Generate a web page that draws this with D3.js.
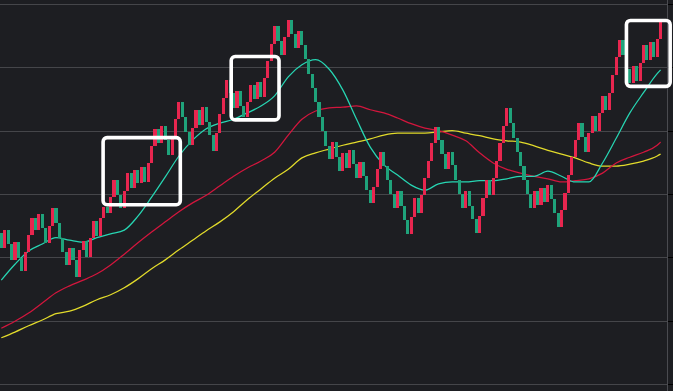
<!DOCTYPE html>
<html><head><meta charset="utf-8">
<script src="https://cdn.jsdelivr.net/npm/d3@7"></script>
<style>html,body{margin:0;padding:0;background:#1d1e22;overflow:hidden}svg{display:block}</style>
</head><body><svg id="c" width="673" height="391"></svg>
<script>
// ---- data (price units) ----
const opens = [3238,3215,3243,3221,3196,3224,3199,3178,3208,3235,
3262,3243,3268,3246,3223,3249,3278,3254,3231,3208,
3188,3215,3196,3169,3212,3226,3201,3231,3257,3234,
3262,3279,3270,3295,3322,3298,3278,3305,3333,3309,
3338,3317,3343,3319,3349,3376,3403,3381,3407,3385,
3362,3388,3418,3445,3422,3398,3377,3404,3433,3409,
3437,3414,3393,3368,3396,3426,3452,3480,3460,3436,
3463,3439,3422,3445,3472,3450,3477,3453,3483,3510,
3537,3565,3542,3520,3548,3575,3553,3530,3557,3535,
3513,3490,3467,3445,3422,3400,3376,3355,3382,3358,
3336,3365,3341,3369,3347,3325,3351,3328,3306,3286,
3311,3339,3366,3344,3322,3300,3278,3305,3281,3259,
3237,3264,3294,3270,3298,3325,3352,3381,3406,3385,
3363,3339,3366,3346,3322,3300,3278,3305,3281,3261,
3238,3265,3294,3322,3298,3325,3352,3381,3407,3436,
3412,3388,3366,3344,3322,3300,3278,3305,3283,3309,
3287,3314,3292,3270,3248,3275,3302,3330,3358,3385,
3412,3390,3366,3396,3423,3400,3428,3455,3433,3460,
3488,3516,3543,3520,3497,3475,3502,3478,3507,3535,
3512,3540,3516,3545];
const closes = [3215,3243,3221,3196,3224,3199,3178,3208,3235,3262,
3243,3268,3246,3223,3249,3278,3254,3231,3208,3188,
3215,3196,3169,3212,3226,3201,3231,3257,3234,3262,
3279,3270,3295,3322,3298,3278,3305,3333,3309,3338,
3317,3343,3319,3349,3376,3403,3381,3407,3385,3362,
3388,3418,3445,3422,3398,3377,3404,3433,3409,3437,
3414,3393,3368,3396,3426,3452,3480,3460,3436,3463,
3439,3422,3445,3472,3450,3477,3453,3483,3510,3537,
3565,3542,3520,3548,3575,3553,3530,3557,3535,3513,
3490,3467,3445,3422,3400,3376,3355,3382,3358,3336,
3365,3341,3369,3347,3325,3351,3328,3306,3286,3311,
3339,3366,3344,3322,3300,3278,3305,3281,3259,3237,
3264,3294,3270,3298,3325,3352,3381,3406,3385,3363,
3339,3366,3346,3322,3300,3278,3305,3281,3261,3238,
3265,3294,3322,3298,3325,3352,3381,3407,3436,3412,
3388,3366,3344,3322,3300,3278,3305,3283,3309,3287,
3314,3292,3270,3248,3275,3302,3330,3358,3385,3412,
3390,3366,3396,3423,3400,3428,3455,3433,3460,3488,
3516,3543,3520,3497,3475,3502,3478,3507,3535,3512,
3540,3516,3545,3572];

// moving-average readings at these candle positions
const maIndex = [0,4,8,12,16,20,24,28,32,36,40,44,48,52,56,60,64,68,72,76,80,84,88,92,96,
100,104,108,112,116,120,124,128,132,136,140,144,148,152,156,160,164,168,172,176,180,184,188,192,193];
const maShort = [3164,3189,3210,3221,3231,3227,3224,3231,3237,3243,3265,3295,3327,3360,3385,3403,3412,3418,3428,3439,
3455,3485,3504,3512,3497,3464,3418,3374,3346,3330,3314,3306,3316,3319,3319,3321,3321,3324,3328,3328,
3336,3328,3319,3319,3349,3388,3428,3460,3490,3496];
const maMid = [3088,3099,3112,3128,3144,3155,3164,3174,3188,3205,3223,3240,3256,3272,3286,3298,3313,3328,3341,3352,
3366,3393,3418,3431,3436,3437,3439,3433,3428,3420,3411,3404,3400,3393,3384,3365,3349,3339,3333,3328,
3324,3319,3321,3324,3333,3349,3358,3366,3377,3382];
const maLong = [3073,3082,3092,3101,3111,3115,3123,3133,3141,3152,3166,3182,3196,3212,3227,3242,3256,3272,3291,3308,
3325,3339,3357,3365,3371,3377,3382,3387,3393,3396,3396,3396,3398,3400,3396,3392,3387,3384,3382,3376,
3369,3363,3357,3349,3344,3344,3347,3352,3360,3363];

const gridTicks = [3000,3100,3200,3300,3400,3500,3600];

// highlighted ranges: candle index span and price span
const boxFrom = [29.8, 67.3, 183.0];
const boxTo   = [52.4, 81.3, 195.8];
const boxHi   = [3389, 3517, 3574];
const boxLo   = [3283, 3417, 3470];

// ---- drawing ----
const W = 673, H = 391, axisX = 667.5;
const svg = d3.select("#c");
svg.append("rect").attr("width", W).attr("height", H).attr("fill", "#1d1e22");

const x = d3.scaleLinear().domain([0, closes.length - 1]).range([1.3, 660.6]);
const y = d3.scaleLinear().domain([3000, 3600]).range([384, 4]);

// grid
svg.append("g").attr("transform", `translate(${axisX},0)`)
  .call(d3.axisLeft(y).tickValues(gridTicks).tickSize(axisX).tickFormat(""))
  .call(g => g.select(".domain").remove())
  .call(g => g.selectAll(".tick line").attr("stroke", "#45464a").attr("shape-rendering", "crispEdges"));

// right axis
svg.append("line").attr("x1", axisX).attr("x2", axisX).attr("y1", 0).attr("y2", H)
  .attr("stroke", "#4a4b50").attr("shape-rendering", "crispEdges");
svg.append("g").attr("transform", `translate(${axisX + 0.5},0)`)
  .call(d3.axisRight(y).tickValues(gridTicks).tickSize(5).tickFormat(""))
  .call(g => g.select(".domain").remove())
  .call(g => g.selectAll(".tick line").attr("stroke", "#000").attr("shape-rendering", "crispEdges"));

// moving averages
const line = vals => d3.line().x((d, i) => x(maIndex[i])).y(d => y(d)).curve(d3.curveMonotoneX)(vals);
[[maLong, "#e2db2b"], [maMid, "#d3163d"], [maShort, "#27d6b3"]].forEach(([v, c]) => {
  svg.append("path").attr("d", line(v)).attr("fill", "none").attr("stroke", c).attr("stroke-width", 1.25);
});

// candles
const bw = 3.1;
svg.append("g").selectAll("rect").data(closes).join("rect")
  .attr("x", (d, i) => x(i) - bw / 2)
  .attr("width", bw)
  .attr("y", (d, i) => y(Math.max(d, opens[i])))
  .attr("height", (d, i) => Math.max(1, Math.abs(y(d) - y(opens[i]))))
  .attr("fill", (d, i) => d >= opens[i] ? "#e8264f" : "#1fa37b")
  .attr("shape-rendering", "crispEdges");

// highlight boxes
svg.append("g").selectAll("rect").data(boxFrom).join("rect")
  .attr("x", (d, i) => x(d))
  .attr("width", (d, i) => x(boxTo[i]) - x(d))
  .attr("y", (d, i) => y(boxHi[i]))
  .attr("height", (d, i) => y(boxLo[i]) - y(boxHi[i]))
  .attr("rx", 4).attr("ry", 4)
  .attr("fill", "none").attr("stroke", "#ffffff").attr("stroke-width", 3.6);
</script></body></html>
